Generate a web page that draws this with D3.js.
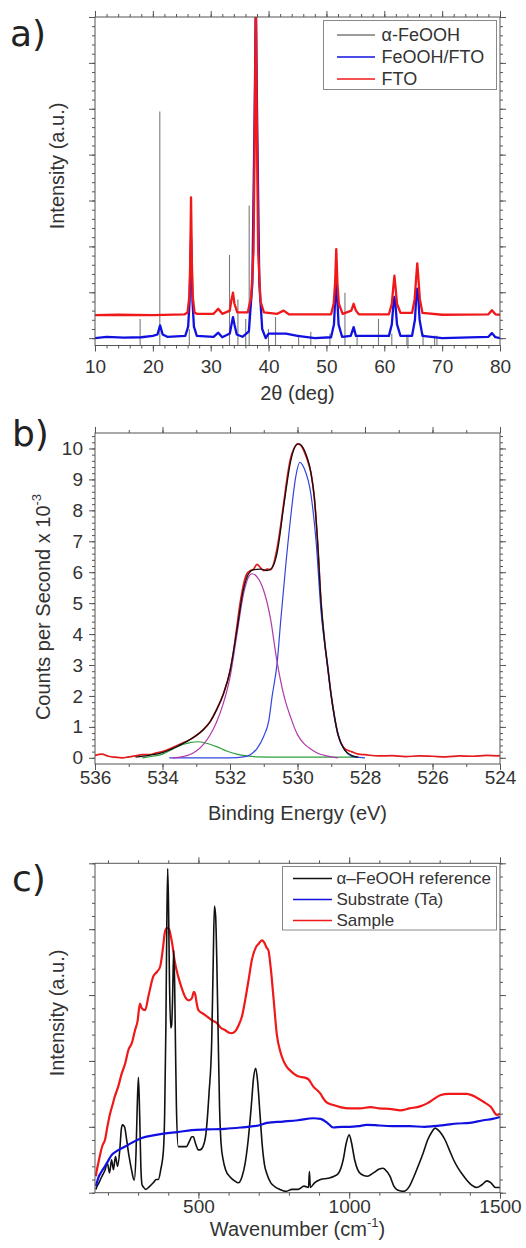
<!DOCTYPE html>
<html>
<head>
<meta charset="utf-8">
<script src="https://cdn.jsdelivr.net/npm/d3@7"></script>
<style>
  body { margin: 0; background: #fff; }
</style>
</head>
<body>
<script>
// ---- panel a: XRD ----
const xrdTicks = [10, 20, 30, 40, 50, 60, 70, 80];
const xrdYTicks = [0, 1, 2, 3, 4, 5, 6, 7];
const goethiteSticks = [
    [17.8, 0.42], [21.2, 4.94], [26.3, 0.2], [33.25, 1.81], [34.7, 0.84], [36.05, 0.42],
    [36.65, 2.89], [39.98, 0.2], [41.2, 0.46], [45.2, 0.08], [47.3, 0.14], [50.6, 0.1],
    [53.2, 0.99], [55.3, 0.06], [59.0, 0.42], [61.3, 0.1], [63.9, 0.06], [64.1, 0.08],
    [66.7, 0.1], [68.7, 0.06], [69.1, 0.05]
];
const feoohFto = [
    [10, 0.0], [12, 0.03], [15, 0.01], [18, 0.02], [20, 0.05], [20.8, 0.08], [21.25, 0.28], [21.7, 0.08],
    [22.5, 0.03], [25.6, 0.05], [26.1, 0.25], [26.35, 0.8], [26.6, 2.2], [26.85, 0.8], [27.1, 0.25],
    [27.6, 0.05], [30.5, 0.03], [31.3, 0.12], [32, 0.02], [33.3, 0.1], [33.6, 0.3], [33.85, 0.46],
    [34.1, 0.3], [34.5, 0.08], [35.5, 0.03], [36.6, 0.15], [37.2, 1.2], [37.55, 4.5], [37.8, 7.3],
    [38.05, 4.5], [38.4, 1.2], [38.9, 0.2], [39.5, 0.0], [40, 0.1], [41, 0.1], [43, 0.1], [45, 0.05],
    [48, 0.0], [50.8, 0.02], [51.3, 0.3], [51.5, 0.8], [51.7, 1.35], [51.9, 0.8], [52.1, 0.3],
    [52.7, 0.03], [54.2, 0.05], [54.7, 0.24], [55.1, 0.05], [60.8, 0.05], [61.3, 0.3], [61.55, 0.7],
    [61.75, 0.9], [61.95, 0.7], [62.2, 0.3], [62.8, 0.05], [64.8, 0.05], [65.3, 0.4], [65.5, 0.85],
    [65.7, 1.08], [65.9, 0.85], [66.1, 0.4], [66.6, 0.05], [70, 0.0], [78, 0.03], [78.6, 0.11],
    [79.2, 0.02], [80, 0.0]
];
const ftoOnly = [
    [10, 0.5], [14, 0.51], [20, 0.5], [25.5, 0.52], [26.0, 0.56], [26.3, 0.9], [26.45, 1.6],
    [26.6, 3.07], [26.75, 1.6], [26.9, 0.9], [27.2, 0.56], [27.6, 0.53], [30.5, 0.53], [31.3, 0.64],
    [32, 0.53], [33.3, 0.6], [33.6, 0.85], [33.85, 0.99], [34.1, 0.75], [34.6, 0.56], [36.4, 0.56],
    [37.0, 0.9], [37.4, 1.9], [37.65, 5], [37.8, 7.5], [37.95, 5], [38.2, 1.9], [38.6, 0.8],
    [39.2, 0.56], [41.5, 0.53], [42.6, 0.6], [43.5, 0.52], [50.8, 0.52], [51.25, 0.75], [51.5, 1.2],
    [51.7, 1.94], [51.9, 1.2], [52.15, 0.75], [52.8, 0.53], [54.3, 0.6], [54.7, 0.75], [55.1, 0.6],
    [55.6, 0.52], [60.8, 0.52], [61.3, 0.75], [61.55, 1.1], [61.75, 1.36], [61.95, 1.1], [62.2, 0.75],
    [62.8, 0.55], [64.8, 0.55], [65.25, 0.85], [65.5, 1.3], [65.7, 1.63], [65.9, 1.3], [66.15, 0.85],
    [66.6, 0.55], [70, 0.51], [78, 0.52], [78.6, 0.61], [79.2, 0.52], [80, 0.51]
];
const xrdLegend = ["\u03b1-FeOOH", "FeOOH/FTO", "FTO"];

// ---- panel b: XPS O 1s ----
const xpsTicks = [536, 534, 532, 530, 528, 526, 524];
const xpsYTicks = [0, 1, 2, 3, 4, 5, 6, 7, 8, 9, 10];
const xpsData = [
    [536, 0.08], [535.8, 0.12], [535.6, 0.05], [535.4, 0.02], [535.2, 0.0], [535, 0.03], [534.8, 0.06],
    [534.6, 0.1], [534.4, 0.1], [534.2, 0.15], [534, 0.2], [533.8, 0.28], [533.6, 0.38], [533.4, 0.48],
    [533.2, 0.58], [533, 0.72], [532.8, 0.9], [532.6, 1.15], [532.4, 1.55], [532.2, 2.05], [532.0, 2.8],
    [531.9, 3.4], [531.8, 4.2], [531.7, 5.0], [531.6, 5.6], [531.5, 5.95], [531.4, 6.05], [531.3, 6.1],
    [531.2, 6.25], [531.1, 6.15], [531.0, 6.05], [530.9, 6.1], [530.8, 6.08], [530.7, 6.3], [530.6, 6.8],
    [530.5, 7.5], [530.4, 8.3], [530.3, 9.1], [530.2, 9.7], [530.1, 10.0], [530.0, 10.15], [529.9, 10.1],
    [529.8, 9.9], [529.7, 9.6], [529.6, 9.2], [529.5, 8.4], [529.4, 6.9], [529.3, 5.0], [529.2, 3.8],
    [529.1, 2.9], [529.0, 2.0], [528.9, 1.3], [528.8, 0.75], [528.7, 0.45], [528.6, 0.3], [528.4, 0.2],
    [528.2, 0.12], [528, 0.1], [527.6, 0.06], [527.2, 0.07], [526.8, 0.04], [526.4, 0.06], [526, 0.05],
    [525.6, 0.03], [525.2, 0.06], [524.8, 0.05], [524.4, 0.08], [524, 0.06]
];
const xpsFit = [
    [534.8, 0.02], [534.4, 0.08], [534, 0.17], [533.6, 0.35], [533.2, 0.58], [532.8, 0.9], [532.6, 1.15],
    [532.4, 1.55], [532.2, 2.05], [532, 2.8], [531.8, 4.1], [531.6, 5.45], [531.45, 5.95], [531.3, 6.08],
    [531.1, 6.1], [530.9, 6.05], [530.75, 6.15], [530.6, 6.65], [530.4, 8.2], [530.2, 9.6], [530.05, 10.1],
    [529.95, 10.15], [529.8, 9.95], [529.6, 9.2], [529.5, 8.4], [529.4, 6.9], [529.3, 5.0], [529.2, 3.8],
    [529.1, 2.9], [529, 2.0], [528.9, 1.3], [528.8, 0.75], [528.6, 0.25], [528.4, 0.08], [528.2, 0.02]
];
const xpsLattice = [
    [533.8, 0], [532, 0], [531.6, 0.03], [531.4, 0.1], [531.2, 0.3], [531.0, 0.7], [530.85, 1.2],
    [530.75, 2.0], [530.6, 3.1], [530.5, 4.4], [530.35, 6.2], [530.2, 7.8], [530.05, 9.1], [529.93, 9.55],
    [529.8, 9.35], [529.6, 8.5], [529.45, 7.0], [529.3, 4.7], [529.15, 3.3], [529.0, 2.0], [528.85, 1.0],
    [528.7, 0.45], [528.5, 0.12], [528.3, 0.02], [528, 0]
];
const xpsHydroxide = [
    [533.7, 0], [533.4, 0.04], [533.2, 0.1], [533.0, 0.22], [532.8, 0.42], [532.6, 0.72], [532.4, 1.15],
    [532.2, 1.75], [532.0, 2.6], [531.8, 3.95], [531.6, 5.3], [531.45, 5.85], [531.35, 5.95], [531.2, 5.85],
    [531.0, 5.4], [530.8, 4.5], [530.62, 3.2], [530.4, 2.0], [530.2, 1.3], [530.0, 0.75], [529.8, 0.45],
    [529.6, 0.28], [529.4, 0.15], [529.2, 0.08], [529, 0.03], [528.8, 0]
];
const xpsWater = [
    [534.6, 0], [534.3, 0.05], [534.0, 0.12], [533.7, 0.28], [533.4, 0.43], [533.15, 0.5], [532.95, 0.52],
    [532.7, 0.47], [532.4, 0.36], [532.1, 0.22], [531.8, 0.12], [531.5, 0.06], [531.2, 0.03], [530.5, 0.02],
    [528.2, 0.02]
];

// ---- panel c: Raman ----
const ramanTicks = [500, 1000, 1500];
const ramanYTicks = [0, 1, 2, 3, 4, 5];
const ramanSample = [
    [160, 0.25], [163, 0.34], [168, 0.45], [175, 0.6], [182, 0.72], [190, 0.8], [198, 1.0], [207, 1.2],
    [215, 1.33], [222, 1.45], [234, 1.61], [245, 1.8], [257, 1.96], [268, 2.17], [279, 2.27], [290, 2.47],
    [298, 2.6], [306, 2.87], [312, 2.8], [323, 2.77], [335, 3.0], [350, 3.28], [362, 3.35], [373, 3.43],
    [382, 3.7], [389, 3.96], [396, 4.02], [402, 4.01], [408, 3.9], [413, 3.78], [420, 3.55], [433, 3.28],
    [445, 3.1], [456, 2.97], [468, 2.92], [478, 2.95], [485, 3.05], [489, 3.02], [494, 2.88], [500, 2.77],
    [515, 2.72], [530, 2.67], [544, 2.62], [560, 2.58], [575, 2.5], [588, 2.47], [600, 2.43], [610, 2.42],
    [622, 2.45], [634, 2.55], [644, 2.67], [656, 2.95], [667, 3.25], [677, 3.53], [690, 3.72], [700, 3.78],
    [710, 3.83], [718, 3.8], [726, 3.72], [732, 3.68], [740, 3.4], [750, 2.9], [760, 2.4], [771, 2.15],
    [782, 2.0], [793, 1.91], [810, 1.83], [825, 1.78], [837, 1.76], [850, 1.75], [865, 1.72], [881, 1.61],
    [895, 1.55], [905, 1.5], [914, 1.43], [925, 1.37], [947, 1.33], [970, 1.3], [1000, 1.28], [1036, 1.28],
    [1070, 1.3], [1100, 1.28], [1140, 1.27], [1169, 1.25], [1200, 1.28], [1235, 1.31], [1260, 1.36],
    [1280, 1.42], [1302, 1.48], [1330, 1.5], [1360, 1.5], [1390, 1.5], [1420, 1.45], [1445, 1.38],
    [1470, 1.3], [1490, 1.18], [1500, 1.2]
];
const ramanReference = [
    [160, 0.05], [163, 0.09], [170, 0.15], [180, 0.25], [190, 0.34], [198, 0.45], [205, 0.3], [212, 0.5],
    [218, 0.35], [225, 0.55], [232, 0.4], [240, 0.7], [244, 0.95], [248, 1.03], [255, 1.0], [262, 0.8],
    [270, 0.55], [278, 0.35], [287, 0.19], [293, 0.6], [297, 1.3], [301, 1.75], [305, 1.2], [309, 0.4],
    [313, 0.12], [317, 0.09], [325, 0.05], [339, 0.1], [350, 0.15], [360, 0.2], [367, 0.2], [375, 0.35],
    [384, 0.65], [388, 1.2], [392, 2.5], [395, 4.0], [398, 4.92], [401, 4.3], [404, 3.2], [408, 2.5],
    [411, 2.54], [414, 2.9], [418, 3.68], [421, 3.2], [424, 2.2], [427, 1.3], [433, 0.7], [445, 0.7],
    [460, 0.7], [470, 0.78], [478, 0.85], [483, 0.85], [490, 0.75], [500, 0.65], [505, 0.65], [515, 0.7],
    [525, 0.9], [535, 1.5], [544, 2.3], [549, 3.5], [553, 4.35], [557, 4.2], [561, 3.5], [565, 2.5],
    [570, 1.3], [575, 0.75], [582, 0.5], [590, 0.35], [605, 0.24], [620, 0.18], [632, 0.15], [645, 0.25],
    [655, 0.45], [665, 0.8], [675, 1.3], [683, 1.75], [690, 1.89], [696, 1.7], [704, 1.2], [712, 0.7],
    [720, 0.4], [726, 0.3], [740, 0.15], [754, 0.09], [770, 0.05], [790, 0.02], [810, 0.05], [830, 0.05],
    [850, 0.1], [865, 0.08], [868, 0.32], [871, 0.08], [885, 0.15], [905, 0.2], [930, 0.22], [950, 0.25],
    [965, 0.3], [980, 0.5], [990, 0.75], [1000, 0.88], [1008, 0.75], [1018, 0.5], [1028, 0.35],
    [1040, 0.28], [1060, 0.25], [1080, 0.3], [1100, 0.36], [1112, 0.37], [1125, 0.32], [1135, 0.25],
    [1148, 0.1], [1160, 0.04], [1180, 0.02], [1200, 0.1], [1215, 0.25], [1230, 0.42], [1245, 0.6],
    [1260, 0.8], [1275, 0.93], [1285, 0.98], [1295, 0.95], [1305, 0.9], [1318, 0.8], [1332, 0.65],
    [1346, 0.5], [1360, 0.38], [1375, 0.28], [1390, 0.19], [1405, 0.12], [1423, 0.08], [1440, 0.12],
    [1457, 0.18], [1470, 0.15], [1485, 0.08], [1500, 0.08]
];
const ramanSubstrate = [
    [160, 0.1], [163, 0.15], [170, 0.25], [180, 0.33], [190, 0.4], [200, 0.48], [212, 0.57], [225, 0.62],
    [240, 0.66], [257, 0.7], [280, 0.76], [312, 0.83], [350, 0.87], [389, 0.9], [430, 0.92], [478, 0.95],
    [530, 0.96], [588, 0.97], [640, 0.99], [699, 1.02], [727, 1.06], [780, 1.08], [830, 1.1], [881, 1.13],
    [905, 1.12], [930, 1.05], [947, 0.99], [975, 1.0], [1000, 1.0], [1030, 1.01], [1058, 1.03],
    [1100, 1.02], [1150, 1.01], [1200, 1.01], [1250, 1.0], [1280, 1.01], [1320, 1.03], [1360, 1.05],
    [1400, 1.06], [1445, 1.1], [1475, 1.12], [1500, 1.15]
];
const ramanLegend = ["\u03b1\u2013FeOOH reference", "Substrate (Ta)", "Sample"];

const FONT = "'Liberation Sans', Arial, sans-serif";
const AXIS_COLOR = "#555";
const TEXT_COLOR = "#333";

const svg = d3.select("body").append("svg")
    .attr("width", 526)
    .attr("height", 1248);

// Draws one set of ticks (major or minor) on one side of a panel
function drawAxis(g, axis, transform, values, size, padding, labels) {
    axis.tickValues(values)
        .tickSize(size)
        .tickSizeOuter(0)
        .tickPadding(padding)
        .tickFormat(labels ? d3.format("d") : () => "");
    const sel = g.append("g").attr("transform", transform).call(axis);
    sel.select(".domain").remove();
    sel.selectAll("line").attr("stroke", AXIS_COLOR).attr("stroke-width", 1);
    sel.selectAll("text")
        .attr("font-family", FONT)
        .attr("font-size", 19)
        .attr("fill", TEXT_COLOR);
    return sel;
}

function makePanel(p) {
    const g = svg.append("g");
    const x = d3.scaleLinear().domain(p.xDomain).range([p.left, p.right]);
    const y = d3.scaleLinear().domain(p.yDomain).range([p.bottom, p.top]);

    const clipId = "clip-" + p.id;
    svg.append("clipPath").attr("id", clipId)
        .append("rect")
        .attr("x", p.left).attr("y", p.top)
        .attr("width", p.right - p.left).attr("height", p.bottom - p.top);

    // ticks on all four sides, pointing outwards
    drawAxis(g, d3.axisBottom(x), `translate(0,${p.bottom})`, p.xMinor, 3, 0, false);
    drawAxis(g, d3.axisBottom(x), `translate(0,${p.bottom})`, p.xMajor, 6, p.xPad, true);
    drawAxis(g, d3.axisTop(x), `translate(0,${p.top})`, p.xMinor, 3, 0, false);
    drawAxis(g, d3.axisTop(x), `translate(0,${p.top})`, p.xMajor, 6, 0, false);
    drawAxis(g, d3.axisLeft(y), `translate(${p.left},0)`, p.yMinor, 3, 0, false);
    drawAxis(g, d3.axisLeft(y), `translate(${p.left},0)`, p.yMajor, 6, 6, p.yLabels);
    drawAxis(g, d3.axisRight(y), `translate(${p.right},0)`, p.yMinor, 3, 0, false);
    drawAxis(g, d3.axisRight(y), `translate(${p.right},0)`, p.yMajor, 6, 0, false);

    const plot = g.append("g").attr("clip-path", `url(#${clipId})`);

    g.append("rect")
        .attr("x", p.left).attr("y", p.top)
        .attr("width", p.right - p.left).attr("height", p.bottom - p.top)
        .attr("fill", "none")
        .attr("stroke", AXIS_COLOR)
        .attr("stroke-width", 1);

    // panel letter
    svg.append("text")
        .attr("x", p.letterX).attr("y", p.letterY)
        .attr("font-family", "'DejaVu Sans', sans-serif")
        .attr("font-size", 36)
        .attr("fill", "#222")
        .text(p.letter);

    return { g, plot, x, y };
}

function drawSeries(panel, data, color, width, curve) {
    const line = d3.line()
        .x(d => panel.x(d[0]))
        .y(d => panel.y(d[1]))
        .curve(curve);
    panel.plot.append("path")
        .datum(data)
        .attr("d", line)
        .attr("fill", "none")
        .attr("stroke", color)
        .attr("stroke-width", width)
        .attr("stroke-linejoin", "round");
}

function drawLegend(box, entries, colors, fontSize) {
    const g = svg.append("g");
    g.append("rect")
        .attr("x", box.x).attr("y", box.y)
        .attr("width", box.w).attr("height", box.h)
        .attr("fill", "#fff")
        .attr("stroke", "#888")
        .attr("stroke-width", 1);
    entries.forEach((label, i) => {
        const cy = box.row0 + i * box.step;
        g.append("line")
            .attr("x1", box.lineX1).attr("x2", box.lineX2)
            .attr("y1", cy).attr("y2", cy)
            .attr("stroke", colors[i])
            .attr("stroke-width", 1.3);
        g.append("text")
            .attr("x", box.textX).attr("y", cy)
            .attr("dy", "0.35em")
            .attr("font-family", FONT)
            .attr("font-size", fontSize)
            .attr("fill", TEXT_COLOR)
            .text(label);
    });
}

function axisTitle(x, y, rotate, parts) {
    const t = svg.append("text")
        .attr("transform", `translate(${x},${y}) rotate(${rotate})`)
        .attr("text-anchor", "middle")
        .attr("font-family", FONT)
        .attr("font-size", 20)
        .attr("fill", TEXT_COLOR);
    parts.forEach(part => {
        const span = t.append("tspan").text(part.text);
        if (part.sup) span.attr("font-size", 13).attr("dy", -9);
        if (part.after) span.attr("dy", 9);
    });
}

// ---------- panel a ----------
const pa = makePanel({
    id: "a", letter: "a)", letterX: 10, letterY: 46,
    left: 95, right: 500, top: 17, bottom: 345.5,
    xDomain: [10, 80], yDomain: [-0.16, 7],
    xMajor: xrdTicks, xMinor: d3.range(10, 80.01, 2), xPad: 8,
    yMajor: xrdYTicks, yMinor: d3.range(0, 7.01, 0.2), yLabels: false
});
pa.plot.selectAll("line.stick")
    .data(goethiteSticks)
    .join("line")
    .attr("class", "stick")
    .attr("x1", d => pa.x(d[0])).attr("x2", d => pa.x(d[0]))
    .attr("y1", pa.y(-0.16)).attr("y2", d => pa.y(d[1]))
    .attr("stroke", "#7a7a7a")
    .attr("stroke-width", 1.1);
drawSeries(pa, feoohFto, "#1010e0", 2.3, d3.curveLinear);
drawSeries(pa, ftoOnly, "#f01818", 2.3, d3.curveLinear);
drawLegend({ x: 323.5, y: 20.5, w: 173, h: 69, row0: 35, step: 22, lineX1: 337, lineX2: 375, textX: 381.5 },
    xrdLegend, ["#7a7a7a", "#1010e0", "#f01818"], 18);
axisTitle(297.5, 400, 0, [{ text: "2\u03b8 (deg)" }]);
axisTitle(64, 166, -90, [{ text: "Intensity (a.u.)" }]);

// ---------- panel b ----------
const pb = makePanel({
    id: "b", letter: "b)", letterX: 12, letterY: 446,
    left: 95, right: 500, top: 433, bottom: 764,
    xDomain: [536, 524], yDomain: [-0.2, 10.5],
    xMajor: xpsTicks, xMinor: d3.range(524, 536.01, 1), xPad: 1,
    yMajor: xpsYTicks, yMinor: d3.range(0, 10.41, 0.2), yLabels: true
});
drawSeries(pb, xpsData, "#e41a1c", 1.7, d3.curveMonotoneX);
drawSeries(pb, xpsWater, "#2e9e3e", 1.2, d3.curveMonotoneX);
drawSeries(pb, xpsLattice, "#3344dd", 1.2, d3.curveMonotoneX);
drawSeries(pb, xpsHydroxide, "#b03aa8", 1.2, d3.curveMonotoneX);
drawSeries(pb, xpsFit, "#111", 1.3, d3.curveMonotoneX);
axisTitle(297.5, 820, 0, [{ text: "Binding Energy (eV)" }]);
axisTitle(50, 607, -90, [{ text: "Counts per Second x 10" }, { text: "-3", sup: true }]);

// ---------- panel c ----------
const pc = makePanel({
    id: "c", letter: "c)", letterX: 12, letterY: 891,
    left: 95, right: 500, top: 863.3, bottom: 1192.7,
    xDomain: [157, 1500], yDomain: [0, 5],
    xMajor: ramanTicks, xMinor: d3.range(200, 1500.1, 100), xPad: 1,
    yMajor: ramanYTicks, yMinor: d3.range(0, 5.01, 0.2), yLabels: false
});
drawSeries(pc, ramanSample, "#f01818", 2.2, d3.curveMonotoneX);
drawSeries(pc, ramanReference, "#111", 1.6, d3.curveMonotoneX);
drawSeries(pc, ramanSubstrate, "#1010e0", 2.2, d3.curveMonotoneX);
drawLegend({ x: 282.5, y: 866.5, w: 214, h: 63.5, row0: 878.5, step: 21, lineX1: 293, lineX2: 332, textX: 336.5 },
    ramanLegend, ["#111", "#1010e0", "#f01818"], 17);
axisTitle(297.5, 1236, 0, [{ text: "Wavenumber (cm" }, { text: "-1", sup: true }, { text: ")", after: true }]);
axisTitle(64, 1013, -90, [{ text: "Intensity (a.u.)" }]);
</script>
</body>
</html>
